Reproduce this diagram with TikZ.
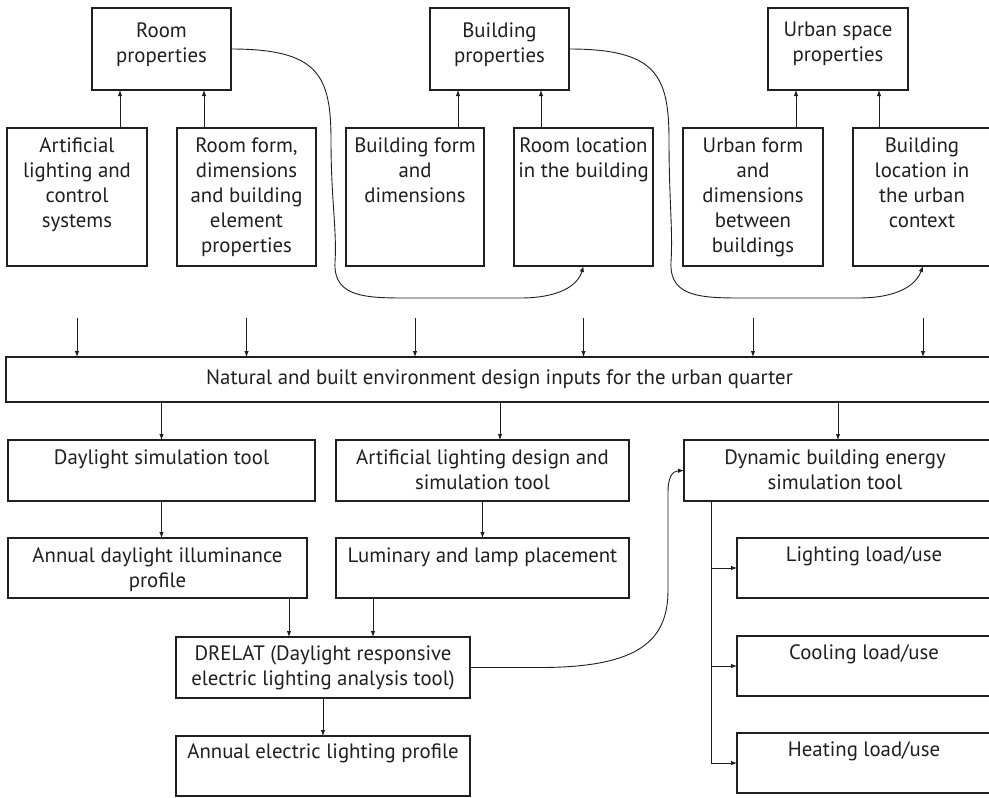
\documentclass[tikz,border=0pt]{standalone}
\usepackage{fontspec}
\setmainfont{PT Sans}
\usetikzlibrary{arrows.meta,calc}
\tikzset{
  bx/.style={draw=black!88, line width=2.6pt, anchor=north west, inner sep=0pt, outer sep=0pt},
  tx/.style={anchor=north, inner sep=0pt, align=center, font=\fontsize{20.8}{25}\selectfont, text=black!88},
  arr/.style={draw=black!88, line width=0.9pt, -{Latex[length=6pt,width=4.5pt]}},
  cv/.style={draw=black!88, line width=0.9pt},
}
\newcommand\mkbox[5]{\node[bx, minimum width=#4pt, minimum height=#5pt] (#1) at (#2,#3) {};}
\newcommand\mktext[3]{\node[tx] (#1t) at ($(#1.north)+(0,#2)$) {\strut #3};}
\begin{document}
\begin{tikzpicture}[x=1pt,y=-1pt]
\useasboundingbox (0,0) rectangle (989,798);
% top boxes
\mkbox{rp}{92}{8}{139}{82}
\mkbox{bp}{430}{8}{139}{82}
\mkbox{up}{768}{8}{140}{82}
\mktext{rp}{11.5}{Room\\properties}
\mktext{bp}{11.5}{Building\\properties}
\mktext{up}{10.5}{Urban space\\properties}
% second row
\mkbox{al}{7}{128}{140}{138}
\mkbox{rf}{177}{128}{139}{138}
\mkbox{bf}{346}{128}{138}{138}
\mkbox{rl}{514}{128}{139}{138}
\mkbox{uf}{683}{128}{140}{138}
\mkbox{bl}{853}{128}{140}{138}
\mktext{al}{6.5}{Artificial\\lighting and\\control\\systems}
\mktext{rf}{6.5}{Room form,\\dimensions\\and building\\element\\properties}
\mktext{bf}{6.5}{Building form\\and\\dimensions}
\mktext{rl}{6.5}{Room location\\in the building}
\mktext{uf}{6.5}{Urban form\\and\\dimensions\\between\\buildings}
\node[tx] (blt) at ($(bl.north)+(-1,6.5)$) {\strut Building\\location in\\the urban\\context};
% arrows up
\draw[arr] (120,0 |- al.north) -- (120,0 |- rp.south);
\draw[arr] (204,0 |- rf.north) -- (204,0 |- rp.south);
\draw[arr] (458,0 |- bf.north) -- (458,0 |- bp.south);
\draw[arr] (541,0 |- rl.north) -- (541,0 |- bp.south);
\draw[arr] (796,0 |- uf.north) -- (796,0 |- up.south);
\draw[arr] (879,0 |- bl.north) -- (879,0 |- up.south);
% curves
\draw[cv,-{Latex[length=6pt,width=4.5pt]}] (rp.east) .. controls (318,49) and (331,75) .. (331,140)
  .. controls (331,200) and (337,230) .. (335,262)
  .. controls (333,300) and (370,298) .. (420,298) -- (520,298)
  .. controls (560,298) and (578,285) .. (rl.south);
\draw[cv,-{Latex[length=6pt,width=4.5pt]}] (bp.east) .. controls (656,49) and (669,75) .. (669,140)
  .. controls (669,200) and (673,230) .. (671,262)
  .. controls (669,300) and (706,298) .. (756,298) -- (858,298)
  .. controls (898,298) and (916,285) .. (bl.south);
% bar
\mkbox{bar}{6}{357}{987}{45}
\node[tx, anchor=center] (bart) at (bar.center) {Natural and built environment design inputs for the urban quarter};
\coordinate (top) at (0,318);
\foreach \b in {al,rf,bf,rl,uf,bl} {\draw[arr] (\b.south |- top) -- (\b.south |- bar.north);}
% third row
\mkbox{ds}{8}{440}{307}{61}
\mkbox{ald}{336}{440}{293}{61}
\mkbox{dyn}{684}{440}{308}{61}
\mktext{ds}{6.5}{Daylight simulation tool}
\mktext{ald}{6.5}{Artificial lighting design and\\simulation tool}
\node[tx] (dynt) at ($(dyn.north)+(-3,6.5)$) {\strut Dynamic building energy\\simulation tool};
\draw[arr] (bar.south -| ds.north) -- (ds.north);
\draw[arr] (500,0 |- bar.south) -- (500,0 |- ald.north);
\draw[arr] (838,0 |- bar.south) -- (838,0 |- dyn.north);
% fourth row
\mkbox{adp}{8}{538}{299}{60}
\mkbox{lum}{336}{538}{293}{60}
\mktext{adp}{6.5}{Annual daylight illuminance\\profile}
\mktext{lum}{6.5}{Luminary and lamp placement}
\draw[arr] (ds.south) -- (ds.south |- adp.north);
\draw[arr] (ald.south) -- (lum.north);
% DRELAT
\mkbox{drl}{176}{637}{294}{61}
\mkbox{ael}{176}{736}{294}{60}
\mktext{drl}{5.5}{DRELAT (Daylight responsive\\electric lighting analysis tool)}
\mktext{ael}{4.5}{Annual electric lighting profile}
\draw[arr] (289,0 |- adp.south) -- (289,0 |- drl.north);
\draw[arr] (373,0 |- lum.south) -- (373,0 |- drl.north);
\draw[arr] (drl.south) -- (ael.north);
\draw[cv,-{Latex[length=6pt,width=4.5pt]}] (drl.east) -- (540,667.5) .. controls (640,667.5) and (668,640) .. (668,590)
  -- (668,492) .. controls (668,478) and (672,471) .. (dyn.west);
% loads
\mkbox{ll}{737}{538}{256}{60}
\mkbox{cl}{737}{636}{256}{60}
\mkbox{hl}{737}{733}{256}{60}
\node[tx] (llt) at ($(ll.north)+(-1,5.5)$) {\strut Lighting load/use};
\node[tx] (clt) at ($(cl.north)+(-1,5.5)$) {\strut Cooling load/use};
\node[tx] (hlt) at ($(hl.north)+(-1,5.5)$) {\strut Heating load/use};
\coordinate (br) at (711,0);
\draw[cv] (br |- dyn.south) -- (br |- hl.west);
\draw[arr] (br |- ll.west) -- (ll.west);
\draw[arr] (br |- cl.west) -- (cl.west);
\draw[arr] (br |- hl.west) -- (hl.west);
\end{tikzpicture}
\end{document}
